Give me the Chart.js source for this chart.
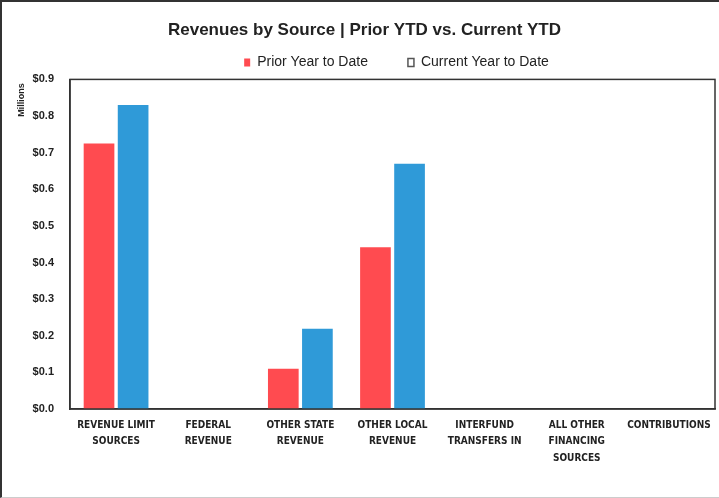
<!DOCTYPE html>
<html>
<head>
<meta charset="utf-8">
<script src="https://cdn.jsdelivr.net/npm/chart.js@4.4.0/dist/chart.umd.min.js"></script>
<style>
  html, body { margin: 0; padding: 0; background: #fff; }
  #wrap { position: relative; width: 719px; height: 498px; box-sizing: border-box;
          border-top: 2px solid #333; border-left: 2px solid #333; border-bottom: 1px solid #ccc; }
  canvas { display: block; }
</style>
</head>
<body>
<div id="wrap"><canvas id="c"></canvas></div>
<script>
const categories = [
  ["REVENUE LIMIT", "SOURCES"],
  ["FEDERAL", "REVENUE"],
  ["OTHER STATE", "REVENUE"],
  ["OTHER LOCAL", "REVENUE"],
  ["INTERFUND", "TRANSFERS IN"],
  ["ALL OTHER", "FINANCING", "SOURCES"],
  ["CONTRIBUTIONS"]
];
const priorYTD = [0.725, 0, 0.11, 0.442, 0, 0, 0];
const currentYTD = [0.83, 0, 0.219, 0.67, 0, 0, 0];
const yTicks = [0, 0.1, 0.2, 0.3, 0.4, 0.5, 0.6, 0.7, 0.8, 0.9];

const frame = {
  id: 'frame',
  afterLayout(chart) {
    if (chart.legend) { chart.legend.left += 38; chart.legend.right += 38; }
    if (chart.titleBlock) { chart.titleBlock.left += 6; chart.titleBlock.right += 6; }
  },
  afterDraw(chart) {
    const a = chart.chartArea, ctx = chart.ctx;
    ctx.save();
    ctx.strokeStyle = '#333';
    ctx.lineWidth = 1.5;
    ctx.strokeRect(a.left, a.top, a.right - a.left, a.bottom - a.top);
    ctx.translate(20, 98);
    ctx.rotate(-Math.PI / 2);
    ctx.font = 'bold 9px "Liberation Sans", Arial, sans-serif';
    ctx.fillStyle = '#222';
    ctx.textAlign = 'center';
    ctx.textBaseline = 'middle';
    ctx.fillText('Millions', 0, 0);
    ctx.restore();
  }
};

new Chart(document.getElementById('c'), {
  type: 'bar',
  data: {
    labels: categories,
    datasets: [
      { label: 'Prior Year to Date', data: priorYTD, backgroundColor: '#FF4B50',
        categoryPercentage: 0.74, barPercentage: 0.9 },
      { label: 'Current Year to Date', data: currentYTD, backgroundColor: '#2F9AD8',
        categoryPercentage: 0.74, barPercentage: 0.9 }
    ]
  },
  options: {
    responsive: true,
    maintainAspectRatio: false,
    animation: false,
    layout: { padding: { left: 0, right: 4, top: 0, bottom: 0 } },
    plugins: {
      title: {
        display: true,
        text: 'Revenues by Source | Prior YTD vs. Current YTD',
        color: '#222',
        font: { family: '"Liberation Sans", Arial, sans-serif', size: 17, weight: 'bold' },
        padding: { top: 18, bottom: -25 }
      },
      legend: {
        display: true,
        labels: {
          color: '#222',
          font: { family: '"Liberation Sans", Arial, sans-serif', size: 14 },
          boxWidth: 6, boxHeight: 8, padding: 40,
          generateLabels(chart) {
            return chart.data.datasets.map((ds, i) => ({
              text: ds.label,
              fillStyle: i === 0 ? '#FF4B50' : '#fff',
              strokeStyle: i === 0 ? '#FF4B50' : '#555',
              lineWidth: i === 0 ? 0 : 1.5,
              fontColor: '#222',
              datasetIndex: i,
              hidden: false
            }));
          }
        }
      },
      tooltip: { enabled: false }
    },
    scales: {
      x: {
        grid: { display: false },
        border: { display: true, color: '#333', width: 1.5 },
        ticks: {
          color: '#222',
          maxRotation: 0,
          autoSkip: false,
          padding: 0,
          font: { family: '"DejaVu Sans Condensed", "DejaVu Sans", sans-serif', size: 10, weight: 'bold', lineHeight: 1.65 }
        },
        afterFit(s) { s.height = 88; }
      },
      y: {
        min: 0, max: 0.9,
        afterBuildTicks(s) { s.ticks = yTicks.map(v => ({ value: v })); },
        grid: { display: false },
        border: { display: true, color: '#333', width: 1.5 },
        ticks: {
          color: '#222',
          padding: 8,
          font: { family: '"Liberation Sans", Arial, sans-serif', size: 11, weight: 'bold' },
          callback: v => '$' + Number(v).toFixed(1)
        },
        afterFit(s) { s.width = 68; }
      }
    }
  },
  plugins: [frame]
});
</script>
</body>
</html>
